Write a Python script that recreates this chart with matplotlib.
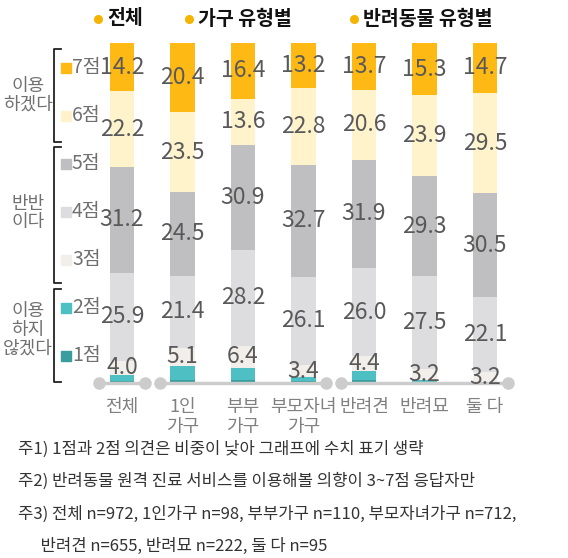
import matplotlib.pyplot as plt
from matplotlib.lines import Line2D
from matplotlib.patches import Rectangle

plt.rcParams['font.family'] = ['Noto Sans CJK KR', 'DejaVu Sans']

# data (percent)
categories = ['전체', '1인\n가구', '부부\n가구', '부모자녀\n가구', '반려견', '반려묘', '둘 다']
p7 = [14.2, 20.4, 16.4, 13.2, 13.7, 15.3, 14.7]
p6 = [22.2, 23.5, 13.6, 22.8, 20.6, 23.9, 29.5]
p5 = [31.2, 24.5, 30.9, 32.7, 31.9, 29.3, 30.5]
p4 = [25.9, 21.4, 28.2, 26.1, 26.0, 27.5, 22.1]
p3 = [4.0, 5.1, 6.4, 3.4, 4.4, 3.2, 3.2]
p2 = [1.8, 4.1, 3.5, 1.3, 2.4, 0.6, 0.0]
p1 = [0.7, 1.0, 1.0, 0.5, 1.0, 0.2, 0.0]
score_names = ['1점', '2점', '3점', '4점', '5점', '6점', '7점']
group_titles = ['전체', '가구 유형별', '반려동물 유형별']
group_ranges = [(0, 0), (1, 3), (4, 6)]
notes = ['주1) 1점과 2점 의견은 비중이 낮아 그래프에 수치 표기 생략',
         '주2) 반려동물 원격 진료 서비스를 이용해볼 의향이 3~7점 응답자만',
         '주3) 전체 n=972, 1인가구 n=98, 부부가구 n=110, 부모자녀가구 n=712,',
         '      반려견 n=655, 반려묘 n=222, 둘 다 n=95']

colors = ['#3A9C9C', '#4EC0C4', '#F2EFEA', '#DDDDDF', '#BFBFC1', '#FFF3CC', '#FFB915']
label_color = '#595959'
W, H = 568, 558


def fx(x):
    return x / W


def fy(y):
    return 1 - y / H


fig = plt.figure(figsize=(W / 100, H / 100), dpi=100)
ax = fig.add_axes([fx(91.75), fy(383), fx(515.25) - fx(91.75), fy(43) - fy(383)])

series = [p1, p2, p3, p4, p5, p6, p7]
xs = list(range(len(categories)))
bottom = [0.0] * len(categories)
for k, vals in enumerate(series):
    ax.bar(xs, vals, bottom=bottom, width=0.41, color=colors[k], linewidth=0, zorder=2)
    if k >= 2:
        for i, v in enumerate(vals):
            ax.text(i, bottom[i] + v / 2, f'{v:.1f}', ha='center', va='center',
                    fontsize=16.5, fontweight='light', color=label_color, zorder=4)
    bottom = [b + v for b, v in zip(bottom, vals)]

# grouped baseline with round ends
for a, b in group_ranges:
    ax.plot([a - 0.38, b + 0.38], [0, 0], color='#cccccc', lw=2.5, zorder=3,
            solid_capstyle='butt', clip_on=False)
    ax.plot([a - 0.38, b + 0.38], [0, 0], 'o', color='#cccccc', ms=8, zorder=3,
            clip_on=False)

for i, c in enumerate(categories):
    ax.text(i, -4.5, c, ha='center', va='top', fontsize=13, fontweight='light',
            color='#808080', linespacing=1.1)

ax.set_xlim(-0.5, 6.5)
ax.set_ylim(0, 100)
ax.axis('off')

# header titles
header_x = [98, 189, 354]
for x, t in zip(header_x, group_titles):
    fig.lines.append(Line2D([fx(x)], [fy(19)], marker='o', ms=5.5, color='#F5B400',
                            transform=fig.transFigure))
    fig.text(fx(x + 9), fy(19), t, fontsize=14, fontweight='bold', color='#111111',
             va='center', ha='left')

# left legend
for j, name in enumerate(reversed(score_names)):
    y = 68 + j * 48
    fig.patches.append(Rectangle((fx(61), fy(y + 5)), 10 / W, 10 / H,
                                 color=colors[6 - j], transform=fig.transFigure))
    fig.text(fx(72), fy(y), name, fontsize=14, fontweight='light', color='#707070',
             va='center', ha='left')

# brackets and group descriptions
brackets = [(49, 142, '이용\n하겠다', 95), (147, 283, '반반\n이다', 213),
            (289, 382, '이용\n하지\n않겠다', 330)]
for top, bot, txt, yc in brackets:
    fig.lines.append(Line2D([fx(61), fx(54), fx(54), fx(61)], [fy(top), fy(top), fy(bot), fy(bot)],
                            color='#222222', lw=1.3, transform=fig.transFigure))
    fig.text(fx(28), fy(yc), txt, fontsize=13, fontweight='light', color='#707070',
             ha='center', va='center', linespacing=1.05)

# footnotes
for k, n in enumerate(notes):
    fig.text(fx(18), fy(449 + k * 32.5), n, fontsize=12, color='#333333',
             va='center', ha='left')

fig.savefig('out.png', dpi=100)
